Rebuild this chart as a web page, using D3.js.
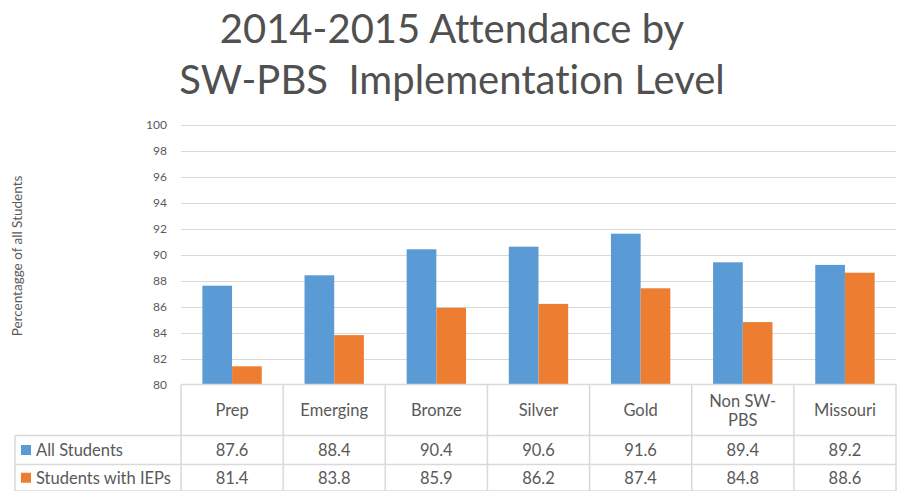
<!DOCTYPE html>
<html>
<head>
<meta charset="utf-8">
<script src="https://cdn.jsdelivr.net/npm/d3@7"></script>
<style>
  body { margin: 0; background: #fff; }
  svg { display: block; }
  text { font-variant-ligatures: none; }
</style>
</head>
<body>
<div id="chart"></div>
<script>
// chart data
var categories = ["Prep", "Emerging", "Bronze", "Silver", "Gold", "Non SW-PBS", "Missouri"];
var categoryLines = [["Prep"], ["Emerging"], ["Bronze"], ["Silver"], ["Gold"], ["Non SW-", "PBS"], ["Missouri"]];
var seriesNames = ["All Students", "Students with IEPs"];
var allStudents = [87.6, 88.4, 90.4, 90.6, 91.6, 89.4, 89.2];
var studentsIEP = [81.4, 83.8, 85.9, 86.2, 87.4, 84.8, 88.6];
var yTicks = [80, 82, 84, 86, 88, 90, 92, 94, 96, 98, 100];
var titleLines = ["2014-2015 Attendance by", "SW-PBS  Implementation Level"];
var yLabel = "Percentagge of all Students";

var w = 900, h = 491;
var plotLeft = 181, plotRight = 896, plotTop = 124.5, plotBottom = 384.5;
var tableLeft = 15;
var rowLines = [384.5, 435.5, 464.5, 491];
var colors = ["#5B9BD5", "#ED7D31"];
var font = "Lato, 'Open Sans', sans-serif";
var textColor = "#595959";

var seriesData = [allStudents, studentsIEP];

var svg = d3.select("#chart").append("svg")
    .attr("width", w)
    .attr("height", h);

// Title
svg.selectAll("text.title")
    .data(titleLines)
    .enter()
    .append("text")
    .attr("class", "title")
    .attr("x", 452)
    .attr("y", function (d, i) { return 43 + i * 51; })
    .attr("text-anchor", "middle")
    .attr("font-family", font)
    .attr("font-size", "40px")
    .attr("fill", "#505050")
    .style("white-space", "pre")
    .text(function (d) { return d; });

// Scales
var xScale = d3.scaleBand()
    .domain(categories)
    .range([plotLeft, plotRight]);

var xInner = d3.scaleBand()
    .domain(seriesNames)
    .range([0, xScale.bandwidth()])
    .paddingOuter(0.72)
    .paddingInner(0);

var yScale = d3.scaleLinear()
    .domain([80, 100])
    .range([plotBottom, plotTop]);

// Gridlines
svg.append("g")
    .selectAll("line")
    .data(yTicks.slice(1))
    .enter()
    .append("line")
    .attr("x1", plotLeft)
    .attr("x2", plotRight)
    .attr("y1", function (d) { return Math.round(yScale(d)) + 0.5; })
    .attr("y2", function (d) { return Math.round(yScale(d)) + 0.5; })
    .attr("stroke", "#d9d9d9")
    .attr("stroke-width", 1.2);

// Y axis
var yAxis = d3.axisLeft(yScale)
    .tickValues(yTicks)
    .tickSize(0)
    .tickPadding(0);

var yAxisG = svg.append("g")
    .attr("class", "y axis")
    .attr("transform", "translate(" + 167 + ",0)")
    .call(yAxis);
yAxisG.select(".domain").remove();
yAxisG.selectAll("text")
    .attr("font-family", font)
    .attr("font-size", "12px")
    .attr("fill", textColor);

// Y label
svg.append("text")
    .attr("transform", "translate(22," + 256 + ") rotate(-90)")
    .attr("text-anchor", "middle")
    .attr("font-family", font)
    .attr("font-size", "13.5px")
    .attr("fill", textColor)
    .text(yLabel);

// Bars
seriesData.forEach(function (values, si) {
    svg.append("g")
        .selectAll("rect")
        .data(values)
        .enter()
        .append("rect")
        .attr("x", function (d, i) { return xScale(categories[i]) + xInner(seriesNames[si]); })
        .attr("y", function (d) { return yScale(d); })
        .attr("width", xInner.bandwidth())
        .attr("height", function (d) { return yScale(80) - yScale(d); })
        .attr("fill", colors[si]);
});

// Data table lines
var table = svg.append("g").attr("class", "table");
var lineColor = "#d9d9d9";

// horizontal lines
table.selectAll("line.h")
    .data(rowLines)
    .enter()
    .append("line")
    .attr("x1", function (d, i) { return i === 0 ? plotLeft : tableLeft; })
    .attr("x2", plotRight)
    .attr("y1", function (d) { return d; })
    .attr("y2", function (d) { return d; })
    .attr("stroke", lineColor)
    .attr("stroke-width", 1.5);

// vertical lines
var colEdges = categories.map(function (c) { return xScale(c); }).concat([plotRight]);
table.selectAll("line.v")
    .data(colEdges)
    .enter()
    .append("line")
    .attr("x1", function (d) { return d; })
    .attr("x2", function (d) { return d; })
    .attr("y1", plotBottom)
    .attr("y2", h)
    .attr("stroke", lineColor)
    .attr("stroke-width", 1.5);

table.append("line")
    .attr("x1", tableLeft).attr("x2", tableLeft)
    .attr("y1", rowLines[1]).attr("y2", h)
    .attr("stroke", lineColor)
    .attr("stroke-width", 1.5);

// category header
categoryLines.forEach(function (lines, i) {
    var cx = xScale(categories[i]) + xScale.bandwidth() / 2;
    var midY = (rowLines[0] + rowLines[1]) / 2;
    table.append("g")
        .selectAll("text")
        .data(lines)
        .enter()
        .append("text")
        .attr("x", cx)
        .attr("y", function (d, j) { return midY + 6 + (j - (lines.length - 1) / 2) * 19; })
        .attr("text-anchor", "middle")
        .attr("font-family", font)
        .attr("font-size", "16.5px")
        .attr("fill", textColor)
        .text(function (d) { return d; });
});

// series rows
seriesData.forEach(function (values, si) {
    var midY = (rowLines[si + 1] + rowLines[si + 2]) / 2;
    table.append("rect")
        .attr("x", 21)
        .attr("y", midY - 5)
        .attr("width", 10)
        .attr("height", 10)
        .attr("fill", colors[si]);
    table.append("text")
        .attr("x", 36)
        .attr("y", midY + 6)
        .attr("font-family", font)
        .attr("font-size", "16.5px")
        .attr("fill", textColor)
        .text(seriesNames[si]);
    table.append("g")
        .selectAll("text")
        .data(values)
        .enter()
        .append("text")
        .attr("x", function (d, i) { return xScale(categories[i]) + xScale.bandwidth() / 2; })
        .attr("y", midY + 6)
        .attr("text-anchor", "middle")
        .attr("font-family", font)
        .attr("font-size", "16.5px")
        .attr("fill", textColor)
        .text(function (d) { return d.toFixed(1); });
});
</script>
</body>
</html>
